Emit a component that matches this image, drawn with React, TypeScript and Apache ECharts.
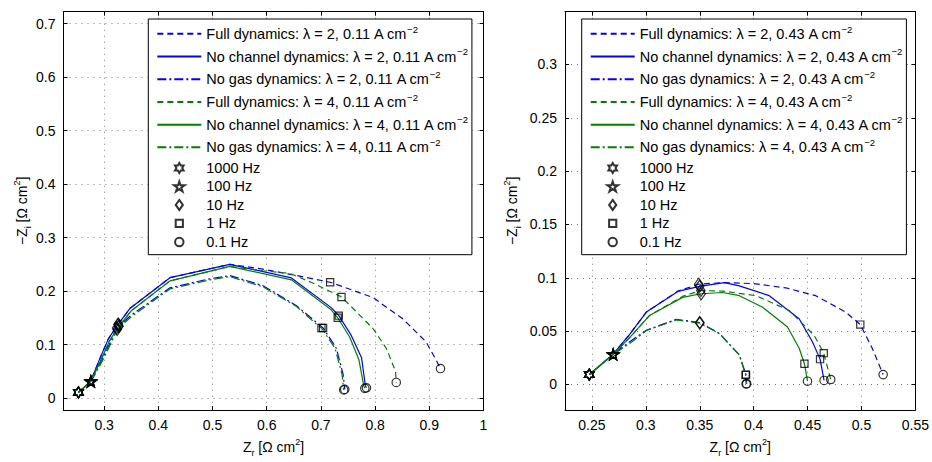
import React, { useEffect, useRef } from 'react';
import * as echarts from 'echarts';

const FONT = '"Liberation Sans", Arial, Helvetica, sans-serif';
const BLUE = '#0000ff';
const GREEN = '#008000';

// ---- Left panel: 0.11 A cm-2 ----
const L_FULL2 = [[0.2526,0.0104],[0.2755,0.032],[0.2926,0.075],[0.308,0.111],[0.326,0.138],[0.348,0.168],[0.4215,0.225],[0.532,0.25],[0.593,0.241],[0.655,0.229],[0.717,0.2165],[0.796,0.188],[0.851,0.148],[0.894,0.105],[0.912,0.072],[0.9206,0.055]];
const L_NC2 = [[0.2526,0.0104],[0.2755,0.032],[0.2926,0.075],[0.308,0.111],[0.326,0.138],[0.348,0.168],[0.4215,0.225],[0.532,0.25],[0.6456,0.2245],[0.719,0.169],[0.733,0.154],[0.756,0.117],[0.775,0.075],[0.782,0.023],[0.784,0.019]];
const L_NG2 = [[0.2526,0.0104],[0.2755,0.031],[0.295,0.07],[0.312,0.105],[0.323,0.131],[0.35,0.155],[0.4215,0.206],[0.495,0.223],[0.532,0.229],[0.593,0.21],[0.655,0.1725],[0.698,0.136],[0.704,0.131],[0.7285,0.093],[0.741,0.044],[0.744,0.016]];
const L_FULL4 = [[0.2526,0.0104],[0.2755,0.031],[0.2945,0.072],[0.31,0.107],[0.327,0.134],[0.35,0.163],[0.4215,0.219],[0.532,0.246],[0.5925,0.238],[0.6425,0.233],[0.685,0.215],[0.738,0.189],[0.796,0.13],[0.8206,0.093],[0.8377,0.05],[0.839,0.029]];
const L_NC4 = [[0.2526,0.0104],[0.2755,0.031],[0.2945,0.072],[0.31,0.107],[0.327,0.134],[0.35,0.163],[0.4215,0.219],[0.532,0.246],[0.6456,0.221],[0.719,0.165],[0.731,0.15],[0.753,0.114],[0.77,0.072],[0.779,0.023],[0.781,0.018]];
const L_NG4 = [[0.2526,0.0104],[0.2755,0.03],[0.296,0.068],[0.313,0.103],[0.324,0.128],[0.35,0.152],[0.4215,0.204],[0.495,0.221],[0.532,0.227],[0.593,0.208],[0.655,0.171],[0.695,0.135],[0.701,0.131],[0.726,0.093],[0.739,0.044],[0.742,0.015]];
// markers, order: full2, nc2, ng2, full4, nc4, ng4
const L_HZ1000 = [[0.2526,0.0104],[0.2526,0.0104],[0.2526,0.0104],[0.2526,0.0104],[0.2526,0.0104],[0.2526,0.0104]];
const L_HZ100 = [[0.2755,0.032],[0.2755,0.032],[0.2755,0.031],[0.2755,0.031],[0.2755,0.031],[0.2755,0.03]];
const L_HZ10 = [[0.326,0.138],[0.326,0.138],[0.323,0.131],[0.327,0.134],[0.327,0.134],[0.324,0.128]];
const L_HZ1 = [[0.717,0.2165],[0.733,0.154],[0.704,0.131],[0.738,0.189],[0.731,0.15],[0.701,0.131]];
const L_HZ01 = [[0.9206,0.055],[0.784,0.019],[0.744,0.016],[0.839,0.029],[0.781,0.018],[0.742,0.015]];
const L_XTICKS = [0.3,0.4,0.5,0.6,0.7,0.8,0.9,1];
const L_YTICKS = [0,0.1,0.2,0.3,0.4,0.5,0.6,0.7];

// ---- Right panel: 0.43 A cm-2 ----
const R_FULL2 = [[0.2475,0.0092],[0.2697,0.0284],[0.285,0.047],[0.3005,0.0678],[0.3297,0.0875],[0.349,0.094],[0.3729,0.0955],[0.4,0.0945],[0.43,0.0905],[0.4576,0.0832],[0.4854,0.0678],[0.4989,0.0561],[0.51,0.0339],[0.5201,0.0092]];
const R_NC2 = [[0.2475,0.0092],[0.2697,0.0284],[0.285,0.047],[0.3005,0.0678],[0.3297,0.0872],[0.3498,0.092],[0.3729,0.0955],[0.3867,0.0924],[0.4145,0.0832],[0.4422,0.0616],[0.4545,0.04],[0.4616,0.0237],[0.4653,0.0037]];
const R_NG2 = [[0.2475,0.0092],[0.2697,0.0284],[0.285,0.04],[0.3005,0.0508],[0.3282,0.061],[0.35,0.058],[0.3683,0.0478],[0.3867,0.0277],[0.3929,0.0092],[0.3935,0.0006]];
const R_FULL4 = [[0.2475,0.0092],[0.2697,0.028],[0.286,0.045],[0.3035,0.0647],[0.334,0.0825],[0.351,0.088],[0.3713,0.0875],[0.4022,0.0832],[0.433,0.0693],[0.456,0.0462],[0.465,0.0293],[0.4715,0.0046]];
const R_NC4 = [[0.2475,0.0092],[0.2697,0.028],[0.286,0.045],[0.3035,0.0647],[0.334,0.0816],[0.3513,0.085],[0.3713,0.0862],[0.3867,0.0832],[0.4083,0.0724],[0.4314,0.0539],[0.4422,0.0339],[0.4471,0.0194],[0.4499,0.003]];
const R_NG4 = [[0.2475,0.0092],[0.2697,0.028],[0.286,0.039],[0.3005,0.0505],[0.3282,0.0605],[0.35,0.0575],[0.3683,0.0475],[0.3867,0.0275],[0.3925,0.0088],[0.393,0.0004]];
const R_HZ1000 = [[0.2475,0.0092],[0.2475,0.0092],[0.2475,0.0092],[0.2475,0.0092],[0.2475,0.0092],[0.2475,0.0092]];
const R_HZ100 = [[0.2697,0.0284],[0.2697,0.0284],[0.2697,0.0284],[0.2697,0.028],[0.2697,0.028],[0.2697,0.028]];
const R_HZ10 = [[0.349,0.094],[0.3498,0.092],[0.35,0.058],[0.351,0.088],[0.3513,0.085],[0.35,0.0575]];
const R_HZ1 = [[0.4989,0.0561],[0.4616,0.0237],[0.3929,0.0092],[0.465,0.0293],[0.4471,0.0194],[0.3925,0.0088]];
const R_HZ01 = [[0.5201,0.0092],[0.4653,0.0037],[0.3935,0.0006],[0.4715,0.0046],[0.4499,0.003],[0.393,0.0004]];
const R_XTICKS = [0.25,0.3,0.35,0.4,0.45,0.5,0.55];
const R_YTICKS = [0,0.05,0.1,0.15,0.2,0.25,0.3];

const CURVE_LABELS = ['Full dynamics', 'No channel dynamics', 'No gas dynamics'];
const LAMBDAS = [2, 4];
const HZ_NAMES = ['1000 Hz', '100 Hz', '10 Hz', '1 Hz', '0.1 Hz'];

function starPath(n: number, rIn: number) {
  const pts: string[] = [];
  for (let i = 0; i < 2 * n; i++) {
    const r = i % 2 === 0 ? 100 : 100 * rIn;
    const a = -Math.PI / 2 + (i * Math.PI) / n;
    pts.push((r * Math.cos(a)).toFixed(2) + ' ' + (r * Math.sin(a)).toFixed(2));
  }
  return 'path://M' + pts.join(' L') + ' Z';
}
const HEXAGRAM = starPath(6, 1 / Math.sqrt(3));
const PENTAGRAM = starPath(5, 0.382);
const DIAMOND = 'path://M0 -7 L5 0 L0 7 L-5 0 Z';
const SQUARE = 'path://M-5 -5 M5 5 M-3.6 -3.6 L3.6 -3.6 L3.6 3.6 L-3.6 3.6 Z';
const CIRCLE = 'path://M-5 -5 M5 5 M4.2 0 A4.2 4.2 0 1 1 -4.2 0 A4.2 4.2 0 1 1 4.2 0 Z';
const HZ_SYMBOLS: any[] = [HEXAGRAM, PENTAGRAM, DIAMOND, SQUARE, CIRCLE];
const HZ_SIZES: any[] = [11, 11, 12, 10, 10];

const DASH = [6, 4];
const DASHDOT = [9, 3, 2, 3];
const LINE_TYPES: any[] = [DASH, 'solid', DASHDOT];

function curveName(i: number, lam: number, cur: string) {
  return `${CURVE_LABELS[i]}: λ = ${lam}, ${cur} A cm−2`;
}

const nameRich = {
  sub: { fontSize: 9, lineHeight: 10, verticalAlign: 'bottom', fontFamily: FONT, color: '#000' },
  sup: { fontSize: 9, lineHeight: 10, verticalAlign: 'top', fontFamily: FONT, color: '#000' },
};

function buildPanel(idx: number, cur: string, curves: number[][][], markers: number[][][],
  xr: [number, number], yr: [number, number], xt: number[], yt: number[], yNameGap: number) {
  const gridIndex = idx;
  const axisBase = {
    type: 'value', gridIndex,
    axisLine: { show: true, onZero: false, lineStyle: { color: '#000', width: 1 } },
  };
  const xAxes = [
    {
      ...axisBase, min: xr[0], max: xr[1], position: 'bottom',
      axisTick: { show: true, inside: true, length: 4, customValues: xt, lineStyle: { color: '#000' } },
      axisLabel: { show: true, customValues: xt, formatter: (v: number) => String(v), color: '#000', fontSize: 14, fontFamily: FONT, margin: 8 },
      splitLine: { show: true, lineStyle: { type: [1, 5], color: '#7a7a7a', width: 1 } },
      name: '{n|Z}{sub|r}{n| [Ω cm}{sup|2}{n|]}', nameLocation: 'middle', nameGap: 27,
      nameTextStyle: { fontSize: 14, fontFamily: FONT, color: '#000', lineHeight: 20,
        rich: { ...nameRich, n: { fontSize: 14, lineHeight: 20, fontFamily: FONT, color: '#000' } } },
    },
    {
      ...axisBase, min: xr[0], max: xr[1], position: 'top',
      axisTick: { show: true, inside: true, length: 4, customValues: xt, lineStyle: { color: '#000' } },
      axisLabel: { show: false }, splitLine: { show: false },
    },
  ];
  const yAxes = [
    {
      ...axisBase, min: yr[0], max: yr[1], position: 'left',
      axisTick: { show: true, inside: true, length: 4, customValues: yt, lineStyle: { color: '#000' } },
      axisLabel: { show: true, customValues: yt, formatter: (v: number) => String(v), color: '#000', fontSize: 14, fontFamily: FONT, margin: 8 },
      splitLine: { show: true, lineStyle: { type: [1, 5], color: '#7a7a7a', width: 1 } },
      name: '{n|−Z}{sub|i}{n| [Ω cm}{sup|2}{n|]}', nameLocation: 'middle', nameGap: yNameGap, nameRotate: 90,
      nameTextStyle: { fontSize: 14, fontFamily: FONT, color: '#000', lineHeight: 20,
        rich: { ...nameRich, n: { fontSize: 14, lineHeight: 20, fontFamily: FONT, color: '#000' } } },
    },
    {
      ...axisBase, min: yr[0], max: yr[1], position: 'right',
      axisTick: { show: true, inside: true, length: 4, customValues: yt, lineStyle: { color: '#000' } },
      axisLabel: { show: false }, splitLine: { show: false },
    },
  ];
  const series: any[] = [];
  const lineNames: string[] = [];
  LAMBDAS.forEach((lam, li) => {
    CURVE_LABELS.forEach((_, ci) => {
      const name = curveName(ci, lam, cur);
      lineNames.push(name);
      series.push({
        type: 'line', name, xAxisIndex: idx * 2, yAxisIndex: idx * 2,
        data: curves[li * 3 + ci], symbol: 'none', showSymbol: false,
        lineStyle: { color: li === 0 ? BLUE : GREEN, width: 1.2, type: LINE_TYPES[ci] },
        itemStyle: { color: li === 0 ? BLUE : GREEN },
        z: 2,
      });
    });
  });
  HZ_NAMES.forEach((hz, hi) => {
    series.push({
      type: 'scatter', name: hz, xAxisIndex: idx * 2, yAxisIndex: idx * 2,
      data: markers[hi], symbol: HZ_SYMBOLS[hi], symbolSize: HZ_SIZES[hi], symbolKeepAspect: true,
      itemStyle: { color: 'rgba(255,255,255,0)', borderColor: '#000', borderWidth: 1.2 },
      z: 5,
    });
  });
  return { xAxes, yAxes, series, lineNames };
}

function legendFor(left: number, lineNames: string[]) {
  return {
    show: true, left, top: 19, orient: 'vertical',
    itemWidth: 44, itemHeight: 10, itemGap: 3,
    padding: [5, 4, 5, 8],
    borderColor: '#000', borderWidth: 1, backgroundColor: '#fff',
    selectedMode: false, symbolKeepAspect: true,
    textStyle: {
      fontSize: 14.5, fontFamily: FONT, color: '#000', lineHeight: 19.7,
      rich: { sup: { fontSize: 9.5, lineHeight: 10, verticalAlign: 'top', fontFamily: FONT, color: '#000' } },
    },
    formatter: (name: string) => name.replace('cm−2', 'cm{sup|−2}'),
    data: [
      ...lineNames.map((n) => ({ name: n, itemStyle: { opacity: 0 } })),
      ...HZ_NAMES.map((n) => ({ name: n, textStyle: { lineHeight: 15.5 } })),
    ],
  };
}

export default function App() {
  const ref = useRef<HTMLDivElement>(null);
  useEffect(() => {
    if (!ref.current) return;
    const chart = echarts.init(ref.current, null, { renderer: 'svg' });
    const left = buildPanel(0, '0.11',
      [L_FULL2, L_NC2, L_NG2, L_FULL4, L_NC4, L_NG4],
      [L_HZ1000, L_HZ100, L_HZ10, L_HZ1, L_HZ01],
      [0.225, 1], [-0.0225, 0.7225], L_XTICKS, L_YTICKS, 30);
    const right = buildPanel(1, '0.43',
      [R_FULL2, R_NC2, R_NG2, R_FULL4, R_NC4, R_NG4],
      [R_HZ1000, R_HZ100, R_HZ10, R_HZ1, R_HZ01],
      [0.225, 0.55], [-0.024, 0.3495], R_XTICKS, R_YTICKS, 43);
    chart.setOption({
      animation: false,
      backgroundColor: '#fff',
      textStyle: { fontFamily: FONT },
      grid: [
        { left: 63.5, top: 11.7, width: 420, height: 404.3 },
        { left: 565, top: 11.7, width: 352, height: 404.3 },
      ],
      xAxis: [...left.xAxes, ...right.xAxes],
      yAxis: [...left.yAxes, ...right.yAxes],
      legend: [legendFor(148.3, left.lineNames), legendFor(581.7, right.lineNames)],
      series: [...left.series, ...right.series],
    });
    return () => chart.dispose();
  }, []);
  return <div ref={ref} style={{ position: 'absolute', left: 0, top: 0, width: 932, height: 462, background: '#fff' }} />;
}
